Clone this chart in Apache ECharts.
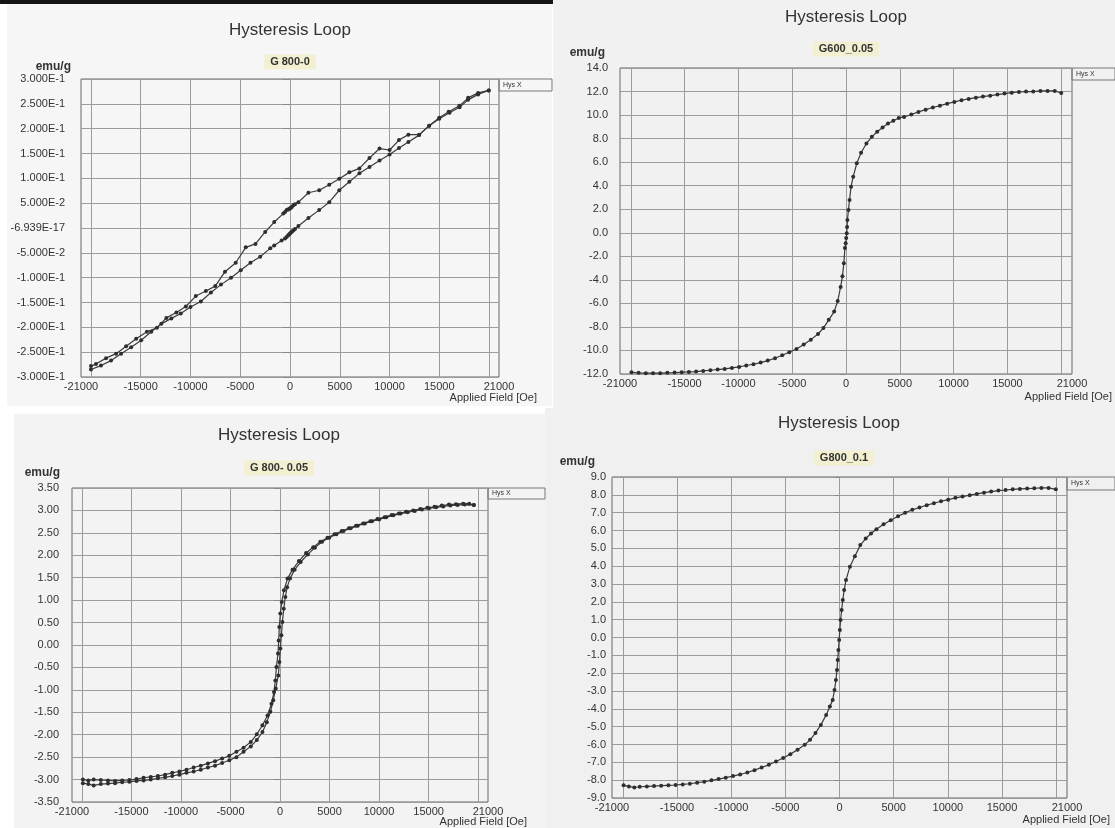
<!DOCTYPE html>
<html>
<head>
<meta charset="utf-8">
<title>Hysteresis Loop</title>
<script src="https://cdn.jsdelivr.net/npm/echarts@6/dist/echarts.min.js"></script>
<style>
  html, body { margin: 0; padding: 0; background: #fff; }
  #main { width: 1115px; height: 828px; }
</style>
</head>
<body>
<div id="main"></div>
<script>
// applied field [Oe] vs moment [emu/g]

// G 800-0 : field going down (upper branch), then coming back up
var g800_0_down = [
  [19970, 0.277], [18900, 0.272], [17900, 0.262], [17019, 0.246], [15940, 0.234], [14997, 0.222],
  [13986, 0.206], [12975, 0.188], [11896, 0.188], [10953, 0.177], [10009, 0.157], [8998, 0.160],
  [7987, 0.141], [6976, 0.120], [5965, 0.112], [4954, 0.099], [3943, 0.087], [2932, 0.076],
  [1854, 0.071], [843, 0.052], [500, 0.048], [337, 0.046], [200, 0.043], [100, 0.041], [0, 0.040],
  [-100, 0.038], [-200, 0.037], [-337, 0.036], [-500, 0.032], [-674, 0.029], [-1584, 0.012],
  [-2492, -0.008], [-3468, -0.032], [-4444, -0.039], [-5454, -0.070], [-6532, -0.088],
  [-7508, -0.117], [-8451, -0.127], [-9461, -0.137], [-10471, -0.158], [-11414, -0.170],
  [-12424, -0.181], [-13367, -0.201], [-14377, -0.209], [-15455, -0.223], [-16465, -0.238],
  [-17475, -0.253], [-18485, -0.262], [-19495, -0.274], [-20000, -0.278]
];
var g800_0_up = [
  [-20000, -0.285], [-18990, -0.277], [-17980, -0.267], [-16970, -0.253], [-15960, -0.240],
  [-14950, -0.226], [-13940, -0.209], [-12930, -0.193], [-11920, -0.182], [-10976, -0.172],
  [-10000, -0.159], [-8956, -0.148], [-7946, -0.130], [-6936, -0.114], [-5926, -0.100],
  [-4950, -0.085], [-3973, -0.070], [-2997, -0.058], [-1987, -0.041], [-1584, -0.035],
  [-843, -0.025], [-500, -0.021], [-337, -0.018], [-200, -0.015], [-100, -0.013], [0, -0.011],
  [100, -0.009], [200, -0.007], [337, -0.005], [500, -0.002], [843, 0.004], [1854, 0.020],
  [2932, 0.036], [3943, 0.052], [4954, 0.076], [5965, 0.093], [6976, 0.110], [7987, 0.123],
  [8998, 0.136], [10009, 0.148], [10953, 0.161], [11896, 0.173], [12975, 0.187], [13986, 0.206],
  [14997, 0.220], [16030, 0.232], [17040, 0.243], [17890, 0.258], [18900, 0.269], [19970, 0.277]
];

// G600_0.05 : both branches lie on top of each other
var g600_005 = [
  [-19930, -11.85], [-19270, -11.90], [-18600, -11.93], [-17930, -11.93], [-17270, -11.93],
  [-16600, -11.90], [-15930, -11.88], [-15270, -11.85], [-14600, -11.82], [-13930, -11.79],
  [-13270, -11.74], [-12600, -11.68], [-11930, -11.62], [-11270, -11.57], [-10600, -11.48],
  [-9930, -11.40], [-9270, -11.28], [-8600, -11.17], [-7930, -11.03], [-7270, -10.86],
  [-6600, -10.66], [-5930, -10.41], [-5270, -10.15], [-4600, -9.87], [-3930, -9.50],
  [-3270, -9.08], [-2600, -8.60], [-2100, -8.10], [-1600, -7.40], [-1100, -6.70], [-770, -5.80],
  [-500, -4.60], [-330, -3.70], [-200, -2.58], [-100, -1.30], [-30, -0.89], [20, -0.45],
  [70, -0.04], [100, 0.50], [130, 1.09], [230, 1.94], [330, 2.79], [470, 3.92], [670, 4.77],
  [1000, 5.90], [1400, 6.80], [1900, 7.59], [2400, 8.15], [2900, 8.58], [3400, 8.94],
  [3900, 9.28], [4400, 9.51], [4900, 9.76], [5400, 9.84], [6070, 10.05], [6730, 10.27],
  [7400, 10.46], [8070, 10.64], [8730, 10.80], [9400, 10.97], [10070, 11.12], [10730, 11.26],
  [11400, 11.37], [12070, 11.48], [12730, 11.57], [13400, 11.65], [14070, 11.74], [14730, 11.83],
  [15400, 11.90], [16070, 11.96], [16730, 12.00], [17400, 12.00], [18070, 12.05], [18730, 12.05],
  [19400, 12.05], [20000, 11.88]
];

// G 800- 0.05 : narrow loop
var g800_005_down = [
  [19570, 3.12], [19100, 3.15], [18490, 3.15], [17770, 3.14], [17050, 3.13], [16330, 3.11],
  [15600, 3.08], [14880, 3.06], [14160, 3.03], [13440, 3.00], [12720, 2.97], [12000, 2.93],
  [11280, 2.90], [10560, 2.85], [9840, 2.81], [9120, 2.76], [8400, 2.71], [7680, 2.66],
  [6960, 2.60], [6230, 2.54], [5510, 2.47], [4790, 2.39], [4070, 2.30], [3350, 2.18],
  [2630, 2.05], [1910, 1.87], [1260, 1.68], [760, 1.48], [400, 1.22], [180, 0.96], [36, 0.70],
  [-70, 0.40], [-130, 0.10], [-200, -0.19], [-360, -0.49], [-470, -0.79], [-610, -1.05],
  [-860, -1.31], [-1260, -1.57], [-1770, -1.79], [-2340, -1.99], [-2950, -2.16], [-3680, -2.29],
  [-4400, -2.38], [-5120, -2.47], [-5840, -2.53], [-6560, -2.59], [-7280, -2.64], [-8000, -2.69],
  [-8720, -2.73], [-9440, -2.78], [-10160, -2.82], [-10880, -2.85], [-11600, -2.89],
  [-12330, -2.92], [-13050, -2.94], [-13770, -2.96], [-14490, -2.99], [-15210, -3.01],
  [-15930, -3.02], [-16650, -3.03], [-17370, -3.02], [-18090, -3.01], [-18810, -3.00],
  [-19350, -3.02], [-19900, -3.00]
];
var g800_005_up = [
  [-19900, -3.08], [-19350, -3.10], [-18810, -3.13], [-18090, -3.10], [-17370, -3.09],
  [-16650, -3.08], [-15930, -3.06], [-15210, -3.05], [-14490, -3.03], [-13770, -3.02],
  [-13050, -3.00], [-12330, -2.97], [-11600, -2.95], [-10880, -2.92], [-10160, -2.89],
  [-9440, -2.85], [-8720, -2.82], [-8000, -2.78], [-7280, -2.73], [-6560, -2.69], [-5840, -2.63],
  [-5120, -2.57], [-4400, -2.50], [-3680, -2.38], [-2950, -2.26], [-2340, -2.12], [-1770, -1.94],
  [-1330, -1.72], [-970, -1.49], [-680, -1.23], [-430, -0.97], [-170, -0.68], [-60, -0.38],
  [40, -0.08], [140, 0.22], [240, 0.51], [380, 0.81], [540, 1.07], [720, 1.29], [1010, 1.48],
  [1480, 1.68], [2090, 1.85], [2810, 2.02], [3530, 2.17], [4250, 2.30], [4970, 2.39],
  [5690, 2.47], [6410, 2.54], [7130, 2.60], [7850, 2.66], [8570, 2.71], [9290, 2.76],
  [10010, 2.80], [10730, 2.85], [11450, 2.89], [12170, 2.93], [12890, 2.96], [13610, 2.99],
  [14330, 3.02], [15050, 3.05], [15770, 3.07], [16490, 3.09], [17210, 3.11], [17930, 3.12],
  [18650, 3.13], [19570, 3.12]
];

// G800_0.1 : both branches lie on top of each other
var g800_01 = [
  [-19930, -8.29], [-19440, -8.35], [-18940, -8.41], [-18440, -8.37], [-17780, -8.35],
  [-17120, -8.33], [-16460, -8.31], [-15790, -8.29], [-15130, -8.27], [-14470, -8.24],
  [-13810, -8.20], [-13140, -8.14], [-12480, -8.09], [-11820, -8.01], [-11160, -7.94],
  [-10500, -7.86], [-9830, -7.77], [-9170, -7.68], [-8510, -7.57], [-7850, -7.44], [-7190, -7.29],
  [-6520, -7.14], [-5860, -6.95], [-5200, -6.76], [-4540, -6.54], [-3870, -6.30], [-3210, -6.02],
  [-2720, -5.74], [-2220, -5.36], [-1720, -4.90], [-1230, -4.34], [-890, -3.87], [-630, -3.50],
  [-460, -2.94], [-330, -2.38], [-230, -1.82], [-165, -1.26], [-100, -0.70], [-33, -0.14],
  [33, 0.42], [100, 0.98], [200, 1.54], [300, 2.10], [430, 2.66], [600, 3.22], [960, 3.97],
  [1420, 4.56], [1920, 5.18], [2420, 5.55], [2910, 5.83], [3410, 6.07], [4070, 6.35],
  [4730, 6.58], [5400, 6.80], [6060, 6.99], [6720, 7.16], [7380, 7.29], [8050, 7.42],
  [8710, 7.53], [9370, 7.64], [10030, 7.73], [10700, 7.83], [11360, 7.90], [12020, 7.98],
  [12680, 8.05], [13340, 8.12], [14000, 8.18], [14670, 8.24], [15330, 8.27], [15990, 8.31],
  [16650, 8.33], [17320, 8.35], [17980, 8.37], [18640, 8.39], [19300, 8.39], [19966, 8.31]
];

// tick labels
var xLabelValues = [-21000, -15000, -10000, -5000, 0, 5000, 10000, 15000, 21000];
var xGridValues = [-20000, -15000, -10000, -5000, 0, 5000, 10000, 15000, 20000];
var yLabelsG800_0 = ['-3.000E-1', '-2.500E-1', '-2.000E-1', '-1.500E-1', '-1.000E-1', '-5.000E-2',
  '-6.939E-17', '5.000E-2', '1.000E-1', '1.500E-1', '2.000E-1', '2.500E-1', '3.000E-1'];

var FONT = '"Liberation Sans", Arial, sans-serif';
var INK = '#333';
var GRIDLINE = '#9c9c9c';

// one entry per scanned plot
var panels = [
  { box: [7, 4, 545, 402], fill: '#f6f6f6',
    grid: { left: 81, top: 79, width: 418, height: 298 },
    y: [-0.3, 0.3, 0.05], yText: function (v) { return yLabelsG800_0[Math.round((v + 0.3) / 0.05)]; },
    yMargin: 16, tick: 7,
    title: [290, 30], sample: 'G 800-0', samplePos: [290, 62], unit: [71, 67],
    field: [537, 398], legend: [499, 79, 53, 12],
    lines: [g800_0_down, g800_0_up] },
  { box: [553, 0, 562, 408], fill: '#f1f1f1',
    grid: { left: 620, top: 68, width: 452, height: 306 },
    y: [-12, 14, 2], yText: function (v) { return v.toFixed(1); },
    yMargin: 12, tick: 6,
    title: [846, 17], sample: 'G600_0.05', samplePos: [846, 49], unit: [605, 53],
    field: [1112, 397], legend: [1072, 68, 43, 12],
    lines: [g600_005] },
  { box: [14, 414, 531, 414], fill: '#f3f3f3',
    grid: { left: 72, top: 488, width: 416, height: 314 },
    y: [-3.5, 3.5, 0.5], yText: function (v) { return v.toFixed(2); },
    yMargin: 13, tick: 6,
    title: [279, 435], sample: 'G 800- 0.05', samplePos: [279, 468], unit: [60, 473],
    field: [527, 822], legend: [488, 488, 57, 11],
    lines: [g800_005_down, g800_005_up] },
  { box: [545, 408, 570, 420], fill: '#f0f0f0',
    grid: { left: 612, top: 477, width: 455, height: 321 },
    y: [-9, 9, 1], yText: function (v) { return v.toFixed(1); },
    yMargin: 6, tick: 5,
    title: [839, 423], sample: 'G800_0.1', samplePos: [844, 458], unit: [595, 462],
    field: [1110, 820], legend: [1067, 477, 48, 13],
    lines: [g800_01] }
];

var myChart = echarts.init(document.getElementById('main'));

var option = {
  animation: false,
  backgroundColor: '#ffffff',
  textStyle: { fontFamily: FONT },
  grid: [], xAxis: [], yAxis: [], series: [], graphic: []
};

// dark strip at the top edge of the scan
option.graphic.push({ type: 'rect', z: -20, shape: { x: 0, y: 0, width: 553, height: 4 }, style: { fill: '#151515' } });

panels.forEach(function (p, i) {
  option.graphic.push({ type: 'rect', z: -30, shape: { x: p.box[0], y: p.box[1], width: p.box[2], height: p.box[3] }, style: { fill: p.fill } });

  option.grid.push({
    left: p.grid.left, top: p.grid.top, width: p.grid.width, height: p.grid.height,
    show: true, borderColor: '#666', borderWidth: 1, backgroundColor: 'transparent'
  });

  option.xAxis.push({
    type: 'value', gridIndex: i, min: -21000, max: 21000,
    axisLine: { show: false },
    axisTick: { show: false, customValues: xGridValues },
    axisLabel: { customValues: xLabelValues, margin: 4, fontSize: 11, color: INK,
      formatter: function (v) { return String(v); } },
    splitLine: { show: true, lineStyle: { color: GRIDLINE, width: 1 } }
  });

  option.yAxis.push({
    type: 'value', gridIndex: i, min: p.y[0], max: p.y[1], interval: p.y[2],
    axisLine: { show: false },
    axisTick: { show: true, length: p.tick, lineStyle: { color: '#888' } },
    axisLabel: { formatter: p.yText, margin: p.yMargin, fontSize: 11, color: INK },
    splitLine: { show: true, lineStyle: { color: GRIDLINE, width: 1 } }
  });

  p.lines.forEach(function (d) {
    option.series.push({
      name: 'Hys X', type: 'line', xAxisIndex: i, yAxisIndex: i, data: d,
      symbol: 'circle', symbolSize: 4, showSymbol: true,
      lineStyle: { color: '#3b3b3b', width: 1.2 },
      itemStyle: { color: '#2e2e2e' }
    });
  });

  // headings and labels printed by the instrument software
  option.graphic.push(
    { type: 'text', x: p.title[0], y: p.title[1],
      style: { text: 'Hysteresis Loop', fill: INK, font: '17px ' + FONT, textAlign: 'center', align: 'center', textVerticalAlign: 'middle', verticalAlign: 'middle' } },
    { type: 'text', x: p.samplePos[0], y: p.samplePos[1],
      style: { text: p.sample, fill: INK, font: 'bold 11px ' + FONT, textAlign: 'center', align: 'center', textVerticalAlign: 'middle', verticalAlign: 'middle', backgroundColor: '#f3f0d2', padding: [2, 6] } },
    { type: 'text', x: p.unit[0], y: p.unit[1],
      style: { text: 'emu/g', fill: INK, font: 'bold 12px ' + FONT, textAlign: 'right', align: 'right', textVerticalAlign: 'middle', verticalAlign: 'middle' } },
    { type: 'text', x: p.field[0], y: p.field[1],
      style: { text: 'Applied Field [Oe]', fill: INK, font: '11px ' + FONT, textAlign: 'right', align: 'right', textVerticalAlign: 'middle', verticalAlign: 'middle' } },
    { type: 'rect', shape: { x: p.legend[0], y: p.legend[1], width: p.legend[2], height: p.legend[3] },
      style: { fill: 'transparent', stroke: '#777', lineWidth: 1 } },
    { type: 'text', x: p.legend[0] + 4, y: p.legend[1] + p.legend[3] / 2,
      style: { text: 'Hys X', fill: INK, font: '7px ' + FONT, textAlign: 'left', align: 'left', textVerticalAlign: 'middle', verticalAlign: 'middle' } }
  );
});

myChart.setOption(option);
</script>
</body>
</html>
